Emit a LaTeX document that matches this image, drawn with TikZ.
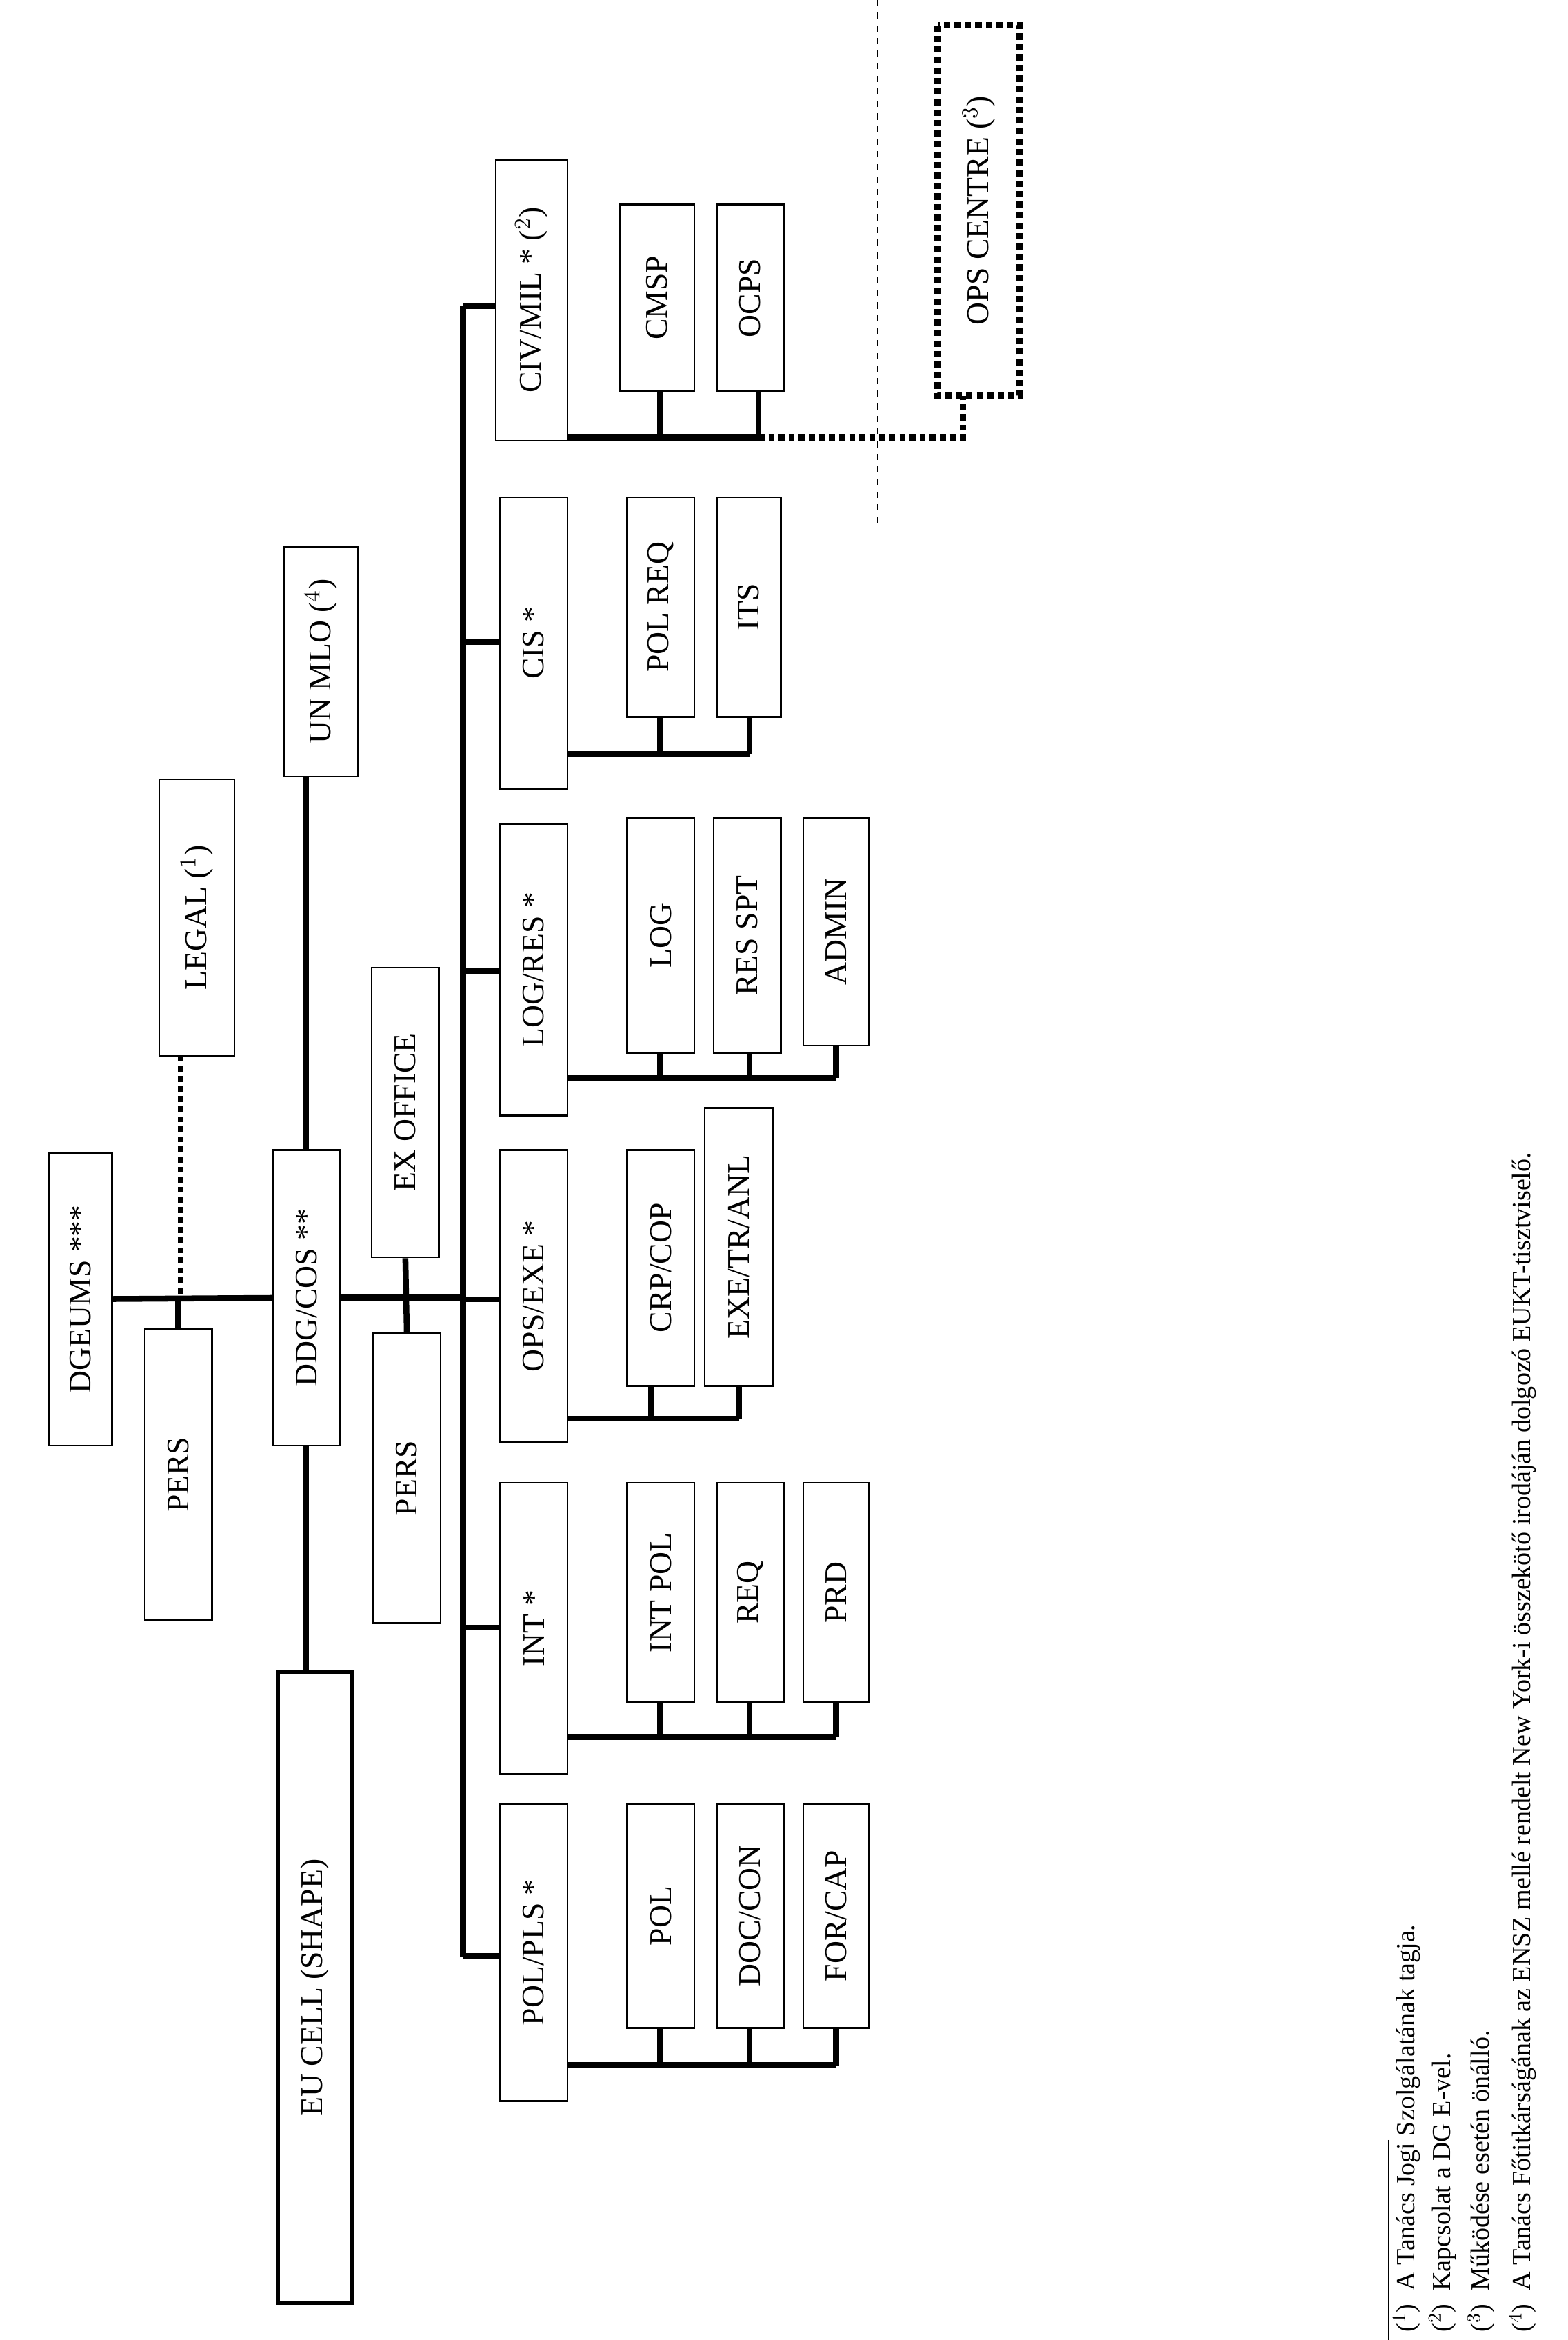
\documentclass[tikz,border=0pt]{standalone}
\usepackage{fontspec}
\setmainfont{Liberation Serif}
\tikzset{
  box/.style={draw, rotate=90, inner sep=0pt, line width=0.8pt, font=\fontsize{15}{18}\selectfont},
  link/.style={line width=2.8pt},
  aux/.style={line width=2.8pt, dotted}
}
% box from page corners (x1,y1)-(x2,y2), in reference pixels
\newcommand{\bx}[7]{%
  \node[box,#7,minimum width={(#5-#3)*0.025cm},minimum height={(#4-#2)*0.025cm}]
    (#1) at ({(#2+#4)/2},{(#3+#5)/2}) {#6};}
\begin{document}
\begin{tikzpicture}[x=0.025cm,y=-0.025cm]
\useasboundingbox (0,0) rectangle (1050,1567);
% top level
\bx{dgeums}{33}{772}{75}{968}{DGEUMS ***}{}
\bx{persa}{97}{890}{142}{1085}{PERS}{}
\bx{legal}{107}{522}{157}{707}{LEGAL ($^{1}$)}{line width=0.5pt}
\bx{ddg}{183}{770}{228}{968}{DDG/COS **}{}
\bx{unmlo}{190}{366}{240}{520}{UN MLO ($^{4}$)}{}
\bx{eucell}{186}{1120}{236}{1542}{EU CELL (SHAPE)}{line width=2pt}
\bx{exoffice}{249}{648}{294}{842}{EX OFFICE}{}
\bx{persb}{250}{893}{295}{1087}{PERS}{}
% directorates
\bx{pol}{335}{1208}{380}{1407}{POL/PLS *}{}
\bx{int}{335}{993}{380}{1188}{INT *}{}
\bx{ops}{335}{770}{380}{966}{OPS/EXE *}{}
\bx{log}{335}{552}{380}{747}{LOG/RES *}{}
\bx{cis}{335}{333}{380}{528}{CIS *}{}
\bx{civ}{332}{107}{380}{295}{CIV/MIL * ($^{2}$)}{}
% units
\bx{pola}{420}{1208}{465}{1358}{POL}{}
\bx{polb}{480}{1208}{525}{1358}{DOC/CON}{}
\bx{polc}{538}{1208}{582}{1358}{FOR/CAP}{}
\bx{inta}{420}{993}{465}{1140}{INT POL}{}
\bx{intb}{480}{993}{525}{1140}{REQ}{}
\bx{intc}{538}{993}{582}{1140}{PRD}{}
\bx{opsa}{420}{770}{465}{928}{CRP/COP}{}
\bx{opsb}{472}{742}{518}{928}{EXE/TR/ANL}{}
\bx{loga}{420}{548}{465}{705}{LOG}{}
\bx{logb}{478}{548}{523}{705}{RES SPT}{}
\bx{logc}{538}{548}{582}{700}{ADMIN}{}
\bx{cisa}{420}{333}{465}{480}{POL REQ}{}
\bx{cisb}{480}{333}{523}{480}{ITS}{}
\bx{civa}{415}{137}{465}{262}{CMSP}{}
\bx{civb}{480}{137}{525}{262}{OCPS}{}
\bx{opscentre}{628}{17}{683}{265}{OPS CENTRE ($^{3}$)}{line width=3pt, dotted}
% links
\coordinate (trunk) at (310,869);
\draw[link] (dgeums) -- (ddg);
\draw[link] (persa.east) -- (persa.east |- ddg);
\draw[aux] (121,707) -- (121,868);
\draw[link] (205,770) -- (205,520);
\draw[link] (205,968) -- (205,1120);
\draw[link] (ddg.south) -- (trunk);
\draw[link] (exoffice.west) -- (persb.east);
\draw[link] (310,205) -- (310,1310);
\foreach \d/\y in {pol/1310,int/1090,ops/870,log/650,cis/430,civ/205}
  \draw[link] (310,\y) -- (\d.north |- 0,\y);
% unit buses
\draw[link] (380,1383) -- (560,1383) (442,1358) -- (442,1383) (502,1358) -- (502,1383) (560,1358) -- (560,1383);
\draw[link] (380,1163) -- (560,1163) (442,1140) -- (442,1163) (502,1140) -- (502,1163) (560,1140) -- (560,1163);
\draw[link] (380,950) -- (495,950) (436,928) -- (436,950) (495,928) -- (495,950);
\draw[link] (380,722) -- (560,722) (442,705) -- (442,722) (502,705) -- (502,722) (560,700) -- (560,722);
\draw[link] (380,505) -- (502,505) (442,480) -- (442,505) (502,480) -- (502,505);
\draw[link] (380,293) -- (508,293) (442,262) -- (442,293) (508,262) -- (508,293);
\draw[aux] (508,293) -- (645,293) -- (645,265);
\draw[dashed, line width=0.8pt] (588,0) -- (588,350);
% footnotes
\draw[line width=0.5pt] (930,1433) -- (930,1567);
\foreach \x/\t in {942/{($^{1}$)\ \ A Tanács Jogi Szolgálatának tagja.},
  966/{($^{2}$)\ \ Kapcsolat a DG E-vel.},
  992/{($^{3}$)\ \ Működése esetén önálló.},
  1020/{($^{4}$)\ \ A Tanács Főtitkárságának az ENSZ mellé rendelt New York-i összekötő irodáján dolgozó EUKT-tisztviselő.}}
  \node[rotate=90, anchor=west, inner sep=0pt, font=\fontsize{12.5}{15}\selectfont] at (\x,1562) {\t};
\end{tikzpicture}
\end{document}
